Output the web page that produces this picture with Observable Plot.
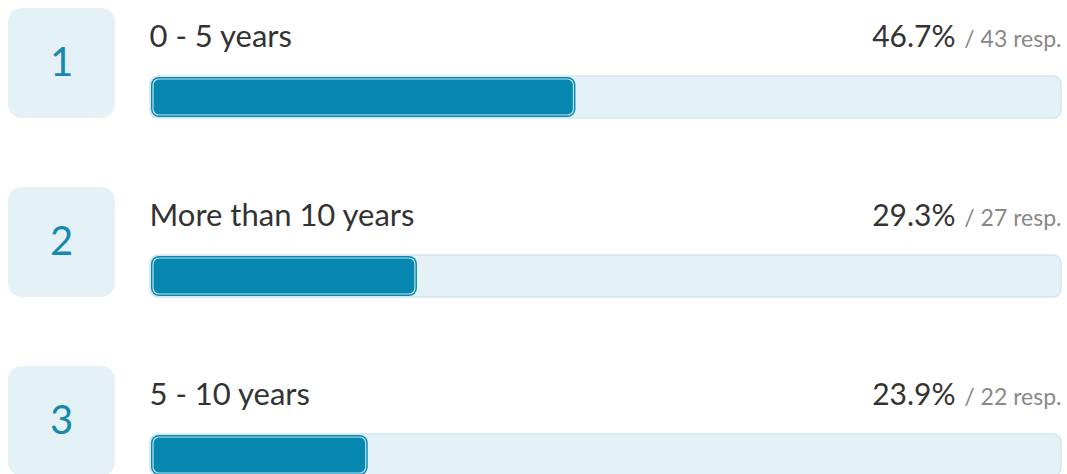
<!DOCTYPE html>
<html>
<head>
<meta charset="utf-8">
<script src="https://cdn.jsdelivr.net/npm/d3@7"></script>
<script src="https://cdn.jsdelivr.net/npm/@observablehq/plot@0.6"></script>
<style>
  html, body { margin: 0; padding: 0; background: #fff; }
  #chart svg { display: block; }
</style>
</head>
<body>
<div id="chart"></div>
<script>
const ranks = ["1", "2", "3"];
const labels = ["0 - 5 years", "More than 10 years", "5 - 10 years"];
const percents = [46.7, 29.3, 23.9];
const responses = [43, 27, 22];

const data = ranks.map((r, i) => ({
  rank: r,
  label: labels[i],
  pct: percents[i],
  resp: responses[i]
}));

const FONT = "Lato, 'Noto Sans', sans-serif";
const step = 179;
const baseDy = 46 - (8 + step / 2); // baseline of row header text

const chart = Plot.plot({
  width: 1067,
  height: 474,
  marginLeft: 150,
  marginRight: 6,
  marginTop: 0,
  marginBottom: 0,
  style: { fontFamily: FONT, background: "#fff" },
  x: { domain: [0, 100], axis: null },
  y: { type: "band", domain: ranks, range: [8, 8 + step * 3], padding: 0, axis: null },
  marks: [
    // rank boxes
    Plot.rect(data, {
      y: "rank", fill: "#e4f2f7", rx: 14,
      insetLeft: -142, insetRight: 1061 - 115, insetBottom: step - 110
    }),
    Plot.text(data, {
      y: "rank", text: "rank", frameAnchor: "left", textAnchor: "middle", dx: -89,
      dy: 55 - step / 2, fill: "#1589b0", fontSize: 40, lineAnchor: "middle"
    }),
    // track
    Plot.rectX(data, {
      y: "rank", x1: 0, x2: 100, fill: "#e4f2f7", stroke: "#cfe7f0", strokeWidth: 1.5, rx: 8,
      insetTop: 68, insetBottom: step - 110
    }),
    // bar
    Plot.rectX(data, {
      y: "rank", x1: 0, x2: "pct", fill: "#0587b0", rx: 8,
      insetLeft: 1, insetTop: 69, insetBottom: step - 109
    }),
    Plot.rectX(data, {
      y: "rank", x1: 0, x2: "pct", fill: "none", stroke: "#ffffff", strokeOpacity: 0.75, strokeWidth: 1.2, rx: 6,
      insetLeft: 3, insetRight: 2, insetTop: 71, insetBottom: step - 107
    }),
    // labels
    Plot.text(data, {
      y: "rank", text: "label", frameAnchor: "left", textAnchor: "start", dx: -1,
      dy: baseDy, lineAnchor: "bottom", fill: "#333333", fontSize: 31
    }),
    Plot.text(data, {
      x: () => 100, y: "rank", text: d => d.pct.toFixed(1) + "%", textAnchor: "end",
      dx: -106, dy: baseDy, lineAnchor: "bottom", fill: "#333333", fontSize: 30
    }),
    Plot.text(data, {
      x: () => 100, y: "rank", text: d => "/ " + d.resp + " resp.", textAnchor: "end",
      dx: 0, dy: baseDy, lineAnchor: "bottom", fill: "#888888", fontSize: 23
    })
  ]
});

document.getElementById("chart").appendChild(chart);
</script>
</body>
</html>
